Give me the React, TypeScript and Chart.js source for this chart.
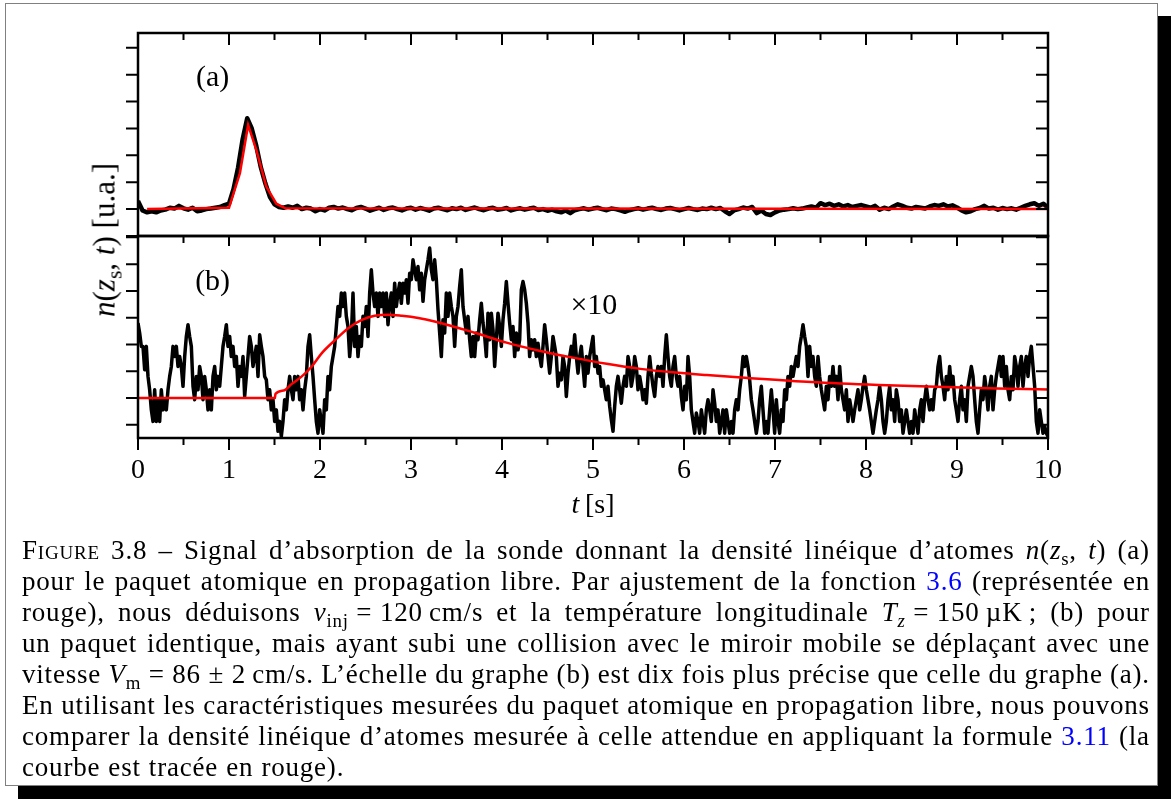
import React, { useEffect, useRef } from "react";
import { Chart, registerables } from "chart.js";

Chart.register(...registerables);

const SERIF = '"Liberation Serif", "Times New Roman", serif';
const RED = "#ff0000";
const BLUE = "#0000ff";

// ---- axes ----
const X_RANGE = [0, 10];
const X_MAJOR_TICKS = [0, 1, 2, 3, 4, 5, 6, 7, 8, 9, 10];
const X_MINOR_TICKS = [0.5, 1.5, 2.5, 3.5, 4.5, 5.5, 6.5, 7.5, 8.5, 9.5];
const A_Y_RANGE = [-1, 6.55];
const B_Y_RANGE = [-1.49, 6.05];
const A_Y_TICKS = [-1, 0, 1, 2, 3, 4, 5, 6];
const B_Y_TICKS = [-1, 0, 1, 2, 3, 4, 5, 6];

// ---- panel (a): measured signal, sampled every 0.05 s ----
const A_SAMPLE_STEP = 0.05;
const aSignal = [
  0.30, -0.05, -0.12, -0.08, -0.12, -0.05, -0.02, 0.05, 0.02, 0.12,
  0.03, -0.02, 0.05, -0.08, -0.05, 0.00, 0.02, 0.05, 0.08, 0.15,
  0.20, 0.75, 1.55, 2.60, 3.38, 3.00, 2.35, 1.55, 0.95, 0.45,
  0.18, 0.08, 0.05, 0.10, 0.05, 0.12, 0.00, 0.05, 0.02, -0.08,
  0.00, -0.05, 0.05, 0.08, 0.02, 0.06, 0.00, -0.04, 0.04, 0.08,
  0.02, -0.06, 0.00, 0.05, -0.03, 0.03, 0.06, 0.00, -0.05, 0.02,
  0.05, -0.02, 0.04, 0.00, -0.06, 0.02, 0.05, 0.00, -0.04, 0.03,
  0.00, 0.05, -0.03, 0.02, 0.06, 0.00, -0.04, 0.02, 0.05, -0.02,
  0.00, 0.04, -0.05, 0.00, 0.03, -0.02, 0.02, 0.05, -0.03, 0.00,
  -0.06, -0.02, -0.08, -0.12, -0.05, -0.15, -0.04, 0.00, 0.03, -0.02,
  0.02, 0.05, 0.00, -0.04, 0.02, 0.00, -0.05, -0.10, -0.04, 0.00,
  0.03, -0.02, 0.02, 0.05, 0.00, -0.03, 0.02, 0.04, 0.00, -0.05,
  0.00, 0.04, 0.00, -0.03, 0.02, 0.00, 0.05, 0.00, 0.04, -0.08,
  -0.18, -0.05, 0.00, 0.06, 0.02, 0.08, -0.15, -0.05, -0.18, -0.22,
  -0.12, -0.05, -0.02, 0.00, 0.03, 0.00, 0.02, 0.06, 0.10, 0.05,
  0.22, 0.15, 0.20, 0.12, 0.18, 0.10, 0.15, 0.08, 0.12, 0.15,
  0.10, 0.05, 0.12, -0.02, 0.05, 0.00, 0.10, 0.18, 0.12, 0.05,
  0.02, 0.08, 0.05, 0.02, 0.10, 0.15, 0.12, 0.18, 0.10, 0.14,
  0.06, -0.05, -0.12, -0.08, 0.00, 0.04, 0.12, 0.02, 0.05, -0.02,
  0.04, 0.00, 0.03, -0.02, 0.05, 0.12, 0.18, 0.22, 0.12, 0.20,
  0.05,
];
// panel (a): fitted curve (red)
const aFitT = [0.1, 1.0, 1.12, 1.21, 1.3, 1.41, 1.52, 1.62, 10];
const aFitV = [0, 0.05, 1.34, 3.13, 2.2, 0.84, 0.2, 0.03, 0];

// ---- panel (b): measured signal (x10), 547 samples over 0..10 s ----
const B_SAMPLE_STEP = 10 / 546;
const bSignal = [
  2.8, 2.43, 1.93, 1.93, 1.06, 1.93, 0.81, 0.31, -0.44, -0.87,
  0.31, -0.87, -0.06, -0.87, 0.31, -0.44, -0.06, -0.44, 0.31, 0.81,
  1.18, 1.93, 1.55, 1.93, 1.18, 1.55, 1.18, 0.44, 1.55, 2.30,
  2.74, 2.30, 1.93, 0.44, -0.06, 0.81, 0.31, 1.18, 0.81, -0.06,
  0.81, 0.31, -0.44, 0.31, -0.44, 0.81, 1.18, 0.31, 0.81, 0.44,
  1.18, 1.93, 2.30, 2.74, 1.93, 2.30, 1.55, 1.93, 1.18, 1.55,
  0.44, 1.18, 0.81, 1.55, 0.06, 0.81, 1.55, 2.30, 1.93, 1.18,
  1.55, 1.93, 0.81, 2.36, 1.93, 1.55, 0.81, 0.68, -0.06, 0.31,
  -0.44, -0.06, -0.87, -0.44, -1.24, -0.87, -1.43, -0.87, -0.06, -0.44,
  0.31, 0.81, 0.31, -0.06, 0.81, 0.31, 0.81, -0.06, 0.31, -0.44,
  0.31, 0.81, 1.93, 2.36, 1.55, 0.81, -0.06, -0.87, -1.31, -0.44,
  -0.87, -1.31, -0.06, -0.44, 0.81, 0.31, 1.18, 1.55, 1.93, 2.67,
  3.42, 3.05, 3.92, 3.42, 3.92, 3.05, 2.67, 1.55, 2.30, 3.92,
  1.93, 2.67, 1.55, 2.30, 1.93, 3.05, 2.67, 3.42, 2.30, 3.92,
  4.79, 3.92, 3.42, 3.92, 3.05, 3.92, 3.42, 3.92, 3.05, 3.92,
  2.74, 3.54, 3.92, 3.05, 4.29, 3.42, 3.92, 4.29, 3.54, 4.29,
  3.92, 4.42, 3.54, 4.66, 4.42, 5.16, 4.79, 4.42, 4.91, 4.04,
  4.66, 3.61, 4.42, 4.79, 5.16, 5.60, 4.79, 4.42, 5.16, 4.42,
  3.30, 2.43, 1.55, 2.92, 2.43,
  3.92, 3.05, 3.92, 3.42, 3.05, 1.93, 3.05, 3.42, 4.17, 4.79,
  3.42, 2.92, 2.43, 3.05, 2.18, 1.55, 2.30, 1.55, 2.43, 2.18,
  2.92, 3.54, 2.80, 2.30, 1.55, 3.17, 2.18, 3.17, 2.55, 1.18,
  2.18, 3.17, 2.67, 1.93, 2.92, 3.54, 4.35, 3.54, 2.80, 2.18,
  2.67, 1.55, 2.43, 1.80, 2.18, 4.04, 4.35, 4.04, 3.54, 2.80,
  1.55, 2.18, 1.80, 2.18, 1.55, 2.05, 1.55, 1.18, 1.93, 2.74,
  2.18, 1.55, 0.93, 1.55, 2.30, 1.93, 1.55, 0.44, 0.93, 0.68,
  1.55, 1.18, 0.06, 0.93, 1.55, 1.93, 1.55, 2.36, 1.55, 0.93,
  1.55, 1.93, 1.18, 0.44, 1.55, 0.93, 1.55, 1.93, 2.30, 1.18,
  1.55, 0.93, 1.18, 0.44, 0.68, 0.31, -0.06, 0.44, -0.31, -0.81,
  -1.24, -0.31, 0.44, 0.81, 0.31, -0.19, 0.44, 0.81, 0.44, 1.55,
  1.18, 0.44, 0.81, 1.55, 1.18, 0.31, 0.81, 0.44, -0.06, 0.31,
  -0.19, 0.81, 1.55, 0.93, 0.44, 0.06, 0.81, 1.18, 0.81, 1.18,
  0.44, 1.55, 2.36, 1.55, 0.81, 0.44, 1.18, 1.55, 0.81, 0.44,
  0.81, 0.06, -0.44, 0.44, -0.06, 1.55, 0.81, -0.44, -0.87, -1.31,
  -0.56, -0.87, -1.31, -0.44, -0.87, -1.31, -0.44, -0.06, -0.44, -0.87,
  0.31, -0.19, -0.87, -0.44, -1.31, -0.87, -0.44, -1.31, -0.44, -0.87,
  -1.31, -0.87, -1.31, -0.44, -0.06, -0.44, 0.31, 0.81, 1.55, 1.18,
  1.55, 1.18, 0.68, -0.06, -0.44, -0.87, -1.31, -0.87, -0.06, 0.44,
  -0.44, -1.31, -0.87, -1.31, -0.44, 0.31, -0.44, -1.31, -0.06, -0.87,
  -1.31, -0.44, -0.87, 0.31, -0.06, 0.81, 0.44, 1.18, 0.81, 1.18,
  1.55, 1.18, 1.93, 2.30, 2.74, 2.30, 1.93, 0.81, 1.93, 1.18,
  1.55, 0.81, 0.44, 1.55, 0.81, 0.31, -0.06, -0.44, 0.44, -0.06,
  0.81, 0.44, 1.18, 0.44, 0.81, -0.06, 1.18, 0.31, -0.06, -0.44,
  0.31, -0.87, -0.06, -0.44, -0.87, -0.44, -0.06, 0.31, -0.44, -0.06,
  0.44, 0.81, 0.31, -0.06, -0.44, -0.87, -1.31, -0.87, -0.44, -0.06,
  0.44, -0.06, -0.87, -1.31, -0.87, -0.06, 0.44, -0.44, -0.06, -0.87,
  0.31, -0.06, -0.87, -0.44, -1.31, -0.87, -0.44, -0.87, -1.31, -0.87,
  -1.31, -0.44, -0.87, -1.31, -0.44, -0.06, -0.87, -0.06, 0.44, -0.06,
  -0.44, -0.06, -0.44, 0.31, 0.44, 1.18, 1.55, 0.81, 0.44, -0.06,
  0.81, 0.31, 1.18, 0.44, 0.81, -0.06, -0.44, -0.87, -0.06, 0.44,
  -0.44, -0.06, -0.87, 0.44, 0.81, 1.18, 0.81, -0.06, -0.87, -1.31,
  -0.44, 0.31, -0.06, 0.81, 0.31, -0.44, 0.44, 0.81, -0.44, 0.31,
  0.81, 1.18, 1.55, 0.81, 1.55, 0.44, 1.18, 0.31, -0.06, 0.81,
  0.31, 1.55, 1.18, 0.44, 1.18, 1.55, 0.44, 1.18, 1.55, 0.81,
  1.55, 1.93, 1.18, 0.44, -0.87, -1.31, -0.44, -0.87, -1.31, -1.06,
  -1.31, -1.43,
];
// panel (b): expected curve (red)
const bFitT = [0, 1.505, 1.51, 1.6, 1.69, 1.8, 1.91, 2.02, 2.17, 2.31, 2.46, 2.6, 2.75, 2.9, 3.08, 3.26, 3.69, 4.05, 4.42, 4.78, 5.15, 5.52, 5.88, 6.25, 6.67, 7.4, 8.14, 8.87, 9.6, 10];
const bFitV = [0, 0, 0.15, 0.28, 0.53, 0.81, 1.18, 1.68, 2.18, 2.61, 2.92, 3.07, 3.11, 3.07, 2.99, 2.86, 2.45, 2.07, 1.76, 1.51, 1.28, 1.09, 0.96, 0.86, 0.76, 0.6, 0.49, 0.41, 0.35, 0.32];

// ---- annotations ----
const A_LABELS = [{ text: "(a)", t: 0.82, v: 4.88 }];
const B_LABELS = [
  { text: "(b)", t: 0.82, v: 4.34 },
  { text: "\u00d710", t: 5.01, v: 3.44 },
];

type Label = { text: string; t: number; v: number };

function panelPlugin(cfg: { yTicks: number[]; topMajor: number; topMinor: number; bottom: boolean; labels: Label[] }) {
  return {
    id: "panelFrame",
    afterDatasetsDraw(chart: any) {
      const { ctx, chartArea: ca } = chart;
      const xs = chart.scales.x;
      const ys = chart.scales.y;
      ctx.save();
      ctx.strokeStyle = "#000";
      ctx.lineCap = "butt";
      ctx.lineWidth = 2;
      ctx.beginPath();
      for (const v of cfg.yTicks) {
        const py = ys.getPixelForValue(v);
        ctx.moveTo(ca.left - 12, py);
        ctx.lineTo(ca.left, py);
        ctx.moveTo(ca.right - 12, py);
        ctx.lineTo(ca.right, py);
      }
      for (const t of X_MAJOR_TICKS) {
        const px = xs.getPixelForValue(t);
        ctx.moveTo(px, ca.top);
        ctx.lineTo(px, ca.top + cfg.topMajor);
        if (cfg.bottom) {
          ctx.moveTo(px, ca.bottom);
          ctx.lineTo(px, ca.bottom + 12);
        }
      }
      for (const t of X_MINOR_TICKS) {
        const px = xs.getPixelForValue(t);
        ctx.moveTo(px, ca.top);
        ctx.lineTo(px, ca.top + cfg.topMinor);
        if (cfg.bottom) {
          ctx.moveTo(px, ca.bottom);
          ctx.lineTo(px, ca.bottom + 7);
        }
      }
      ctx.stroke();
      ctx.lineWidth = 2.5;
      ctx.strokeRect(ca.left, ca.top, ca.right - ca.left, ca.bottom - ca.top);

      ctx.fillStyle = "#000";
      ctx.textAlign = "center";
      ctx.textBaseline = "middle";
      ctx.font = `30px ${SERIF}`;
      for (const l of cfg.labels) {
        ctx.fillText(l.text, xs.getPixelForValue(l.t), ys.getPixelForValue(l.v));
      }
      if (cfg.bottom) {
        ctx.font = `28px ${SERIF}`;
        for (const t of X_MAJOR_TICKS) {
          ctx.fillText(String(t), xs.getPixelForValue(t), ca.bottom + 33);
        }
      }
      ctx.restore();
    },
  };
}

function baseOptions(padding: any, yRange: number[]) {
  return {
    animation: false as const,
    responsive: false,
    maintainAspectRatio: false,
    events: [],
    layout: { padding },
    plugins: { legend: { display: false }, tooltip: { enabled: false } },
    scales: {
      x: { type: "linear" as const, min: X_RANGE[0], max: X_RANGE[1], display: false },
      y: { type: "linear" as const, min: yRange[0], max: yRange[1], display: false },
    },
  };
}

const sub = (s: React.ReactNode) => (
  <span style={{ fontSize: "0.7em", verticalAlign: "-0.3em", lineHeight: 0 }}>{s}</span>
);
const sc = (s: string) => <span style={{ fontVariant: "small-caps" }}>{s}</span>;
const blue = (s: string) => <span style={{ color: BLUE }}>{s}</span>;

// caption, one entry per printed line; strings are split on ordinary spaces
const CAPTION: React.ReactNode[][] = [
  [sc("Figure"), " 3.8 – Signal d’absorption de la sonde donnant la densité linéique d’atomes ", <i>n</i>, "(", <i>z</i>, sub("s"), ", ", <i>t</i>, ") (a)"],
  ["pour le paquet atomique en propagation libre. Par ajustement de la fonction ", blue("3.6"), " (représentée en"],
  ["rouge), nous déduisons ", <i>v</i>, sub("inj"), "\u00a0=\u00a0120\u2009cm/s et la température longitudinale ", <i>T</i>, sub(<i>z</i>), "\u00a0=\u00a0150\u2009µK\u2009; (b) pour"],
  ["un paquet identique, mais ayant subi une collision avec le miroir mobile se déplaçant avec une"],
  ["vitesse ", <i>V</i>, sub("m"), "\u00a0=\u00a086\u00a0±\u00a02\u2009cm/s. L’échelle du graphe (b) est dix fois plus précise que celle du graphe (a)."],
  ["En utilisant les caractéristiques mesurées du paquet atomique en propagation libre, nous pouvons"],
  ["comparer la densité linéique d’atomes mesurée à celle attendue en appliquant la formule ", blue("3.11"), " (la"],
  ["courbe est tracée en rouge)."],
];

function toWords(segs: React.ReactNode[]): React.ReactNode[][] {
  const words: React.ReactNode[][] = [[]];
  for (const s of segs) {
    if (typeof s === "string") {
      s.split(" ").forEach((p, j) => {
        if (j > 0) words.push([]);
        if (p) words[words.length - 1].push(p);
      });
    } else {
      words[words.length - 1].push(s);
    }
  }
  return words.filter((w) => w.length > 0);
}

function CaptionLine({ segs, last }: { segs: React.ReactNode[]; last: boolean }) {
  const words = toWords(segs);
  return (
    <div
      style={{
        display: "flex",
        justifyContent: last ? "flex-start" : "space-between",
        columnGap: last ? "0.3em" : 0,
        whiteSpace: "nowrap",
        height: 31,
        lineHeight: "31px",
      }}
    >
      {words.map((w, i) => (
        <span key={i}>
          {w.map((n, k) => (
            <React.Fragment key={k}>{n}</React.Fragment>
          ))}
        </span>
      ))}
    </div>
  );
}

export default function App() {
  const refA = useRef<HTMLCanvasElement>(null);
  const refB = useRef<HTMLCanvasElement>(null);

  useEffect(() => {
    const chartA = new Chart(refA.current as HTMLCanvasElement, {
      type: "line",
      data: {
        datasets: [
          {
            data: aFitT.map((t, i) => ({ x: t, y: aFitV[i] })),
            borderColor: RED,
            borderWidth: 2.5,
            pointRadius: 0,
            tension: 0,
            order: 0,
          },
          {
            data: aSignal.map((v, i) => ({ x: i * A_SAMPLE_STEP, y: v })),
            borderColor: "#000",
            borderWidth: 4.5,
            borderJoinStyle: "round",
            pointRadius: 0,
            tension: 0,
            order: 1,
          },
        ],
      },
      options: baseOptions({ left: 138, right: 123, top: 33, bottom: 24 }, A_Y_RANGE) as any,
      plugins: [panelPlugin({ yTicks: A_Y_TICKS, topMajor: 12, topMinor: 7, bottom: false, labels: A_LABELS })],
    });
    const chartB = new Chart(refB.current as HTMLCanvasElement, {
      type: "line",
      data: {
        datasets: [
          {
            data: bFitT.map((t, i) => ({ x: t, y: bFitV[i] })),
            borderColor: RED,
            borderWidth: 2.5,
            pointRadius: 0,
            cubicInterpolationMode: "monotone",
            order: 0,
          },
          {
            data: bSignal.map((v, i) => ({ x: i * B_SAMPLE_STEP, y: v })),
            borderColor: "#000",
            borderWidth: 3.5,
            borderJoinStyle: "round",
            pointRadius: 0,
            tension: 0,
            order: 1,
          },
        ],
      },
      options: baseOptions({ left: 138, right: 123, top: 236, bottom: 102 }, B_Y_RANGE) as any,
      plugins: [panelPlugin({ yTicks: B_Y_TICKS, topMajor: 10, topMinor: 7, bottom: true, labels: B_LABELS })],
    });
    return () => {
      chartA.destroy();
      chartB.destroy();
    };
  }, []);

  return (
    <div
      style={{
        position: "fixed",
        left: 0,
        top: 0,
        width: 1171,
        height: 800,
        background: "#fff",
        overflow: "hidden",
        fontFamily: SERIF,
        color: "#000",
      }}
    >
      <div
        style={{
          position: "absolute",
          left: 5,
          top: 3,
          width: 1151,
          height: 781,
          border: "1px solid #808080",
          boxShadow: "13px 13px 0 0 #000",
          background: "#fff",
        }}
      />
      <canvas ref={refB} width={1171} height={540} style={{ position: "absolute", left: 0, top: 0 }} />
      <canvas ref={refA} width={1171} height={260} style={{ position: "absolute", left: 0, top: 0 }} />
      <div
        style={{
          position: "absolute",
          left: 104,
          top: 240,
          transform: "translate(-50%, -50%) rotate(-90deg)",
          whiteSpace: "nowrap",
          fontSize: 31,
          lineHeight: 1,
        }}
      >
        <i>n</i>(<i>z</i>
        {sub("s")}, <i>t</i>) [u.a.]
      </div>
      <div
        style={{
          position: "absolute",
          left: 593,
          top: 504,
          transform: "translate(-50%, -50%)",
          whiteSpace: "nowrap",
          fontSize: 28,
          lineHeight: 1,
        }}
      >
        <i>t</i>
        {"\u2009"}[s]
      </div>
      <div style={{ position: "absolute", left: 22, top: 535, width: 1128, fontSize: 27, letterSpacing: "0.8px" }}>
        {CAPTION.map((segs, i) => (
          <CaptionLine key={i} segs={segs} last={i === CAPTION.length - 1} />
        ))}
      </div>
    </div>
  );
}
